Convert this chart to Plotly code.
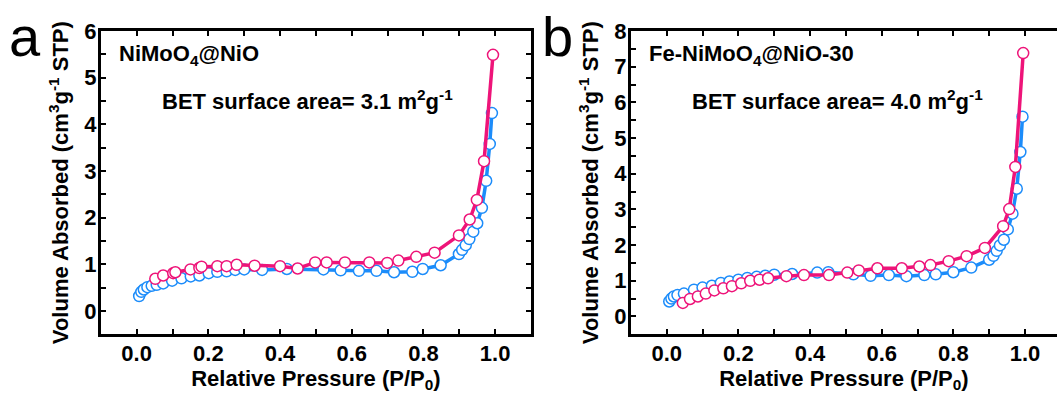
import plotly.graph_objects as go

# ---------------- data ----------------
# Panel a: NiMoO4@NiO
a_ads_x = [0.007, 0.013, 0.020, 0.030, 0.042, 0.056, 0.074, 0.099, 0.125, 0.151, 0.175, 0.201,
           0.225, 0.251, 0.275, 0.300, 0.350, 0.419, 0.521, 0.569, 0.620, 0.669, 0.718, 0.769,
           0.798, 0.848, 0.899, 0.908, 0.918, 0.928, 0.939, 0.950, 0.963, 0.975, 0.985, 0.991]
a_ads_y = [0.32, 0.41, 0.46, 0.51, 0.54, 0.56, 0.59, 0.65, 0.70, 0.74, 0.76, 0.81,
           0.84, 0.85, 0.88, 0.89, 0.88, 0.90, 0.89, 0.87, 0.86, 0.86, 0.83, 0.84,
           0.90, 0.98, 1.22, 1.31, 1.41, 1.54, 1.70, 1.88, 2.21, 2.79, 3.58, 4.24]
a_des_x = [0.052, 0.074, 0.102, 0.108, 0.150, 0.175, 0.181, 0.225, 0.251, 0.279, 0.329, 0.400,
           0.449, 0.498, 0.530, 0.581, 0.649, 0.699, 0.730, 0.780, 0.831, 0.899, 0.929, 0.949,
           0.969, 0.994]
a_des_y = [0.69, 0.76, 0.81, 0.83, 0.89, 0.92, 0.95, 0.96, 0.96, 0.99, 0.97, 0.96,
           0.91, 1.04, 1.04, 1.04, 1.04, 1.03, 1.08, 1.16, 1.25, 1.62, 1.96, 2.38,
           3.21, 5.49]

# Panel b: Fe-NiMoO4@NiO-30
b_ads_x = [0.007, 0.013, 0.020, 0.030, 0.048, 0.076, 0.100, 0.126, 0.151, 0.175, 0.200, 0.225,
           0.251, 0.275, 0.300, 0.350, 0.420, 0.451, 0.521, 0.569, 0.620, 0.669, 0.719, 0.751,
           0.800, 0.850, 0.900, 0.912, 0.921, 0.930, 0.941, 0.952, 0.965, 0.977, 0.987, 0.993]
b_ads_y = [0.42, 0.50, 0.56, 0.60, 0.64, 0.75, 0.81, 0.86, 0.94, 0.98, 1.03, 1.08,
           1.11, 1.14, 1.17, 1.19, 1.23, 1.24, 1.18, 1.14, 1.16, 1.13, 1.16, 1.18,
           1.24, 1.37, 1.59, 1.70, 1.84, 1.99, 2.15, 2.44, 2.88, 3.58, 4.61, 5.60]
b_des_x = [0.045, 0.065, 0.087, 0.109, 0.133, 0.158, 0.182, 0.208, 0.233, 0.259, 0.283, 0.334,
           0.383, 0.453, 0.504, 0.536, 0.588, 0.656, 0.705, 0.736, 0.787, 0.837, 0.888, 0.939,
           0.956, 0.973, 0.995]
b_des_y = [0.38, 0.49, 0.56, 0.64, 0.73, 0.79, 0.85, 0.93, 1.00, 1.03, 1.07, 1.13,
           1.16, 1.16, 1.23, 1.29, 1.35, 1.35, 1.40, 1.44, 1.55, 1.69, 1.92, 2.53,
           3.01, 4.19, 7.38]

x_ticks = [0.0, 0.2, 0.4, 0.6, 0.8, 1.0]
x_tick_labels = ["0.0", "0.2", "0.4", "0.6", "0.8", "1.0"]
a_y_ticks = [0, 1, 2, 3, 4, 5, 6]
b_y_ticks = [0, 1, 2, 3, 4, 5, 6, 7, 8]

BLUE = "#1C8CFA"
PINK = "#EE1479"
FONT = "Liberation Sans, Arial, sans-serif"

fig = go.Figure()


def add_series(x, y, color, xa, ya):
    fig.add_trace(go.Scatter(
        x=x, y=y, mode="lines+markers", xaxis=xa, yaxis=ya, showlegend=False,
        line=dict(color=color, width=3.5),
        marker=dict(symbol="circle", size=11, color="white",
                    line=dict(color=color, width=1.5)),
    ))


add_series(a_ads_x, a_ads_y, BLUE, "x", "y")
add_series(a_des_x, a_des_y, PINK, "x", "y")
add_series(b_ads_x, b_ads_y, BLUE, "x2", "y2")
add_series(b_des_x, b_des_y, PINK, "x2", "y2")

tickfont = dict(family=FONT, size=22, color="black", weight="bold")
titlefont = dict(family=FONT, size=22, color="black", weight="bold")


def xaxis_cfg(domain, rng, mirror):
    return dict(
        domain=domain, range=rng,
        tickvals=x_ticks, ticktext=x_tick_labels,
        ticks="inside", ticklen=5, tickwidth=2, tickcolor="black",
        minor=dict(dtick=0.1, tick0=0, ticks="inside", ticklen=5, tickwidth=2, tickcolor="black"),
        showline=True, linecolor="black", linewidth=3, mirror=mirror,
        showgrid=False, zeroline=False, tickfont=tickfont, ticklabelstandoff=-3,
        title=dict(text="Relative Pressure (P/P<sub>0</sub>)", font=titlefont, standoff=3),
        automargin=False,
    )


def yaxis_cfg(domain, rng, vals, mirror):
    return dict(
        domain=domain, range=rng,
        tickvals=vals, ticktext=[str(v) for v in vals],
        ticks="inside", ticklen=5, tickwidth=2, tickcolor="black",
        minor=dict(dtick=0.5, tick0=0, ticks="inside", ticklen=5, tickwidth=2, tickcolor="black"),
        showline=True, linecolor="black", linewidth=3, mirror=mirror,
        showgrid=False, zeroline=False, tickfont=tickfont, ticklabelstandoff=-3,
        title=dict(text="Volume Absorbed (cm<sup>3</sup>g<sup>-1</sup> STP)", font=titlefont, standoff=10),
        automargin=False,
    )


W, H = 1057, 394
ydom = [(H - 334.3) / H, (H - 31) / H]
xa = xaxis_cfg([100.8 / W, 531 / W], [-0.1, 1.1], "ticks")
xa["anchor"] = "y"
xb = xaxis_cfg([630.9 / W, 1.0], [-0.1, (1057 - 666.7) / 358.3], "ticks")
xb["anchor"] = "y2"
ya = yaxis_cfg(ydom, [-0.5, 6], a_y_ticks, "ticks")
ya["anchor"] = "x"
yb = yaxis_cfg(ydom, [-0.5, 8], b_y_ticks, False)
yb["anchor"] = "x2"

fig.update_layout(
    width=W, height=H, margin=dict(l=0, r=0, t=0, b=0),
    paper_bgcolor="white", plot_bgcolor="white",
    xaxis=xa, yaxis=ya, xaxis2=xb, yaxis2=yb,
    font=dict(family=FONT, color="black"),
)

ann_font = dict(family=FONT, size=22, color="black", weight="bold")
annotations = [
    dict(text="NiMoO<sub>4</sub>@NiO", x=117 / W, y=(H - 55) / H, font=ann_font),
    dict(text="BET surface area= 3.1 m<sup>2</sup>g<sup>-1</sup>", x=160 / W, y=(H - 100) / H, font=ann_font),
    dict(text="Fe-NiMoO<sub>4</sub>@NiO-30", x=647 / W, y=(H - 55) / H, font=ann_font),
    dict(text="BET surface area= 4.0 m<sup>2</sup>g<sup>-1</sup>", x=690 / W, y=(H - 100) / H, font=ann_font),
]
for a in annotations:
    fig.add_annotation(xref="paper", yref="paper", xanchor="left", yanchor="middle",
                       showarrow=False, **a)

letter_font = dict(family=FONT, size=56, color="black")
fig.add_annotation(text="a", x=25 / W, y=(H - 36) / H, xref="paper", yref="paper",
                   xanchor="center", yanchor="middle", showarrow=False, font=letter_font)
fig.add_annotation(text="b", x=557 / W, y=(H - 36) / H, xref="paper", yref="paper",
                   xanchor="center", yanchor="middle", showarrow=False, font=letter_font)

fig.write_html("out.html")
